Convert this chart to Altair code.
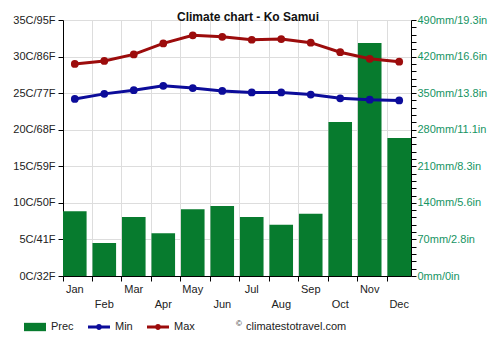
import json
import altair as alt
import pandas as pd

months = ["Jan", "Feb", "Mar", "Apr", "May", "Jun", "Jul", "Aug", "Sep", "Oct", "Nov", "Dec"]
prec_mm = [124, 63, 113, 82, 128, 134, 113, 98, 119, 295, 446, 264]
temp_min = [24.2, 24.9, 25.4, 26.0, 25.7, 25.3, 25.1, 25.1, 24.8, 24.3, 24.1, 24.0]
temp_max = [29.0, 29.4, 30.3, 31.8, 32.9, 32.7, 32.3, 32.4, 31.9, 30.6, 29.7, 29.3]

temp_ticks = [0, 5, 10, 15, 20, 25, 30, 35]
temp_labels = ["0C/32F", "5C/41F", "10C/50F", "15C/59F", "20C/68F", "25C/77F", "30C/86F", "35C/95F"]
prec_minor_ticks = list(range(0, 491, 14))
prec_ticks = [0, 70, 140, 210, 280, 350, 420, 490]
prec_labels = ["0mm/0in", "70mm/2.8in", "140mm/5.6in", "210mm/8.3in", "280mm/11.1in",
               "350mm/13.8in", "420mm/16.6in", "490mm/19.3in"]
lower_row = ["Feb", "Apr", "Jun", "Aug", "Oct", "Dec"]

series = ["Prec", "Min", "Max"]
colors = ["#077b2e", "#0c0c9a", "#9c0c0c"]
title = "Climate chart - Ko Samui"
credit = "climatestotravel.com"

FONT = "Liberation Sans"
df = pd.DataFrame({"month": months, "prec": prec_mm, "tmin": temp_min, "tmax": temp_max})

x_enc = alt.X(
    "month:N", sort=months,
    scale=alt.Scale(paddingInner=0.2, paddingOuter=0),
    axis=alt.Axis(
        title=None, grid=True, gridColor="#dddddd", bandPosition=0,
        domainColor="black", tickColor="black", tickSize=5,
        labelPadding=2, labelFontSize=11, labelColor="#222222", labelAngle=0,
        labelOverlap=False, labelLineHeight=15.5, labelBaseline="top",
        labelExpr="indexof(%s, datum.value) >= 0 ? ['', datum.label] : datum.label" % json.dumps(lower_row),
    ),
)

bars = alt.Chart(df).mark_bar(color=colors[0]).encode(
    x=x_enc,
    y=alt.Y("prec:Q", scale=alt.Scale(domain=[0, 490], nice=False),
            axis=alt.Axis(orient="right", title=None, values=prec_minor_ticks, grid=False,
                          domainColor="black", tickColor="black", tickSize=5, labelPadding=1,
                          labelFontSize=11, labelColor="#169463", labelOverlap=False,
                          labelExpr="indexof(%s, datum.value) >= 0 ? %s[indexof(%s, datum.value)] : ''" % (
                              json.dumps(prec_ticks), json.dumps(prec_labels), json.dumps(prec_ticks)))),
)

temp_axis = alt.Axis(orient="left", title=None, values=temp_ticks, grid=True, gridColor="#dddddd",
                     domainColor="black", tickColor="black", tickSize=5, labelPadding=3,
                     labelFontSize=11, labelColor="#222222",
                     labelExpr="%s[indexof(%s, datum.value)]" % (json.dumps(temp_labels), json.dumps(temp_ticks)))

tscale = alt.Scale(domain=[0, 35], nice=False)
min_line = alt.Chart(df).mark_line(color=colors[1], strokeWidth=3,
                                   point=alt.OverlayMarkDef(color=colors[1], filled=True, size=60, opacity=1)).encode(
    x=x_enc, y=alt.Y("tmin:Q", scale=tscale, axis=temp_axis))
max_line = alt.Chart(df).mark_line(color=colors[2], strokeWidth=3,
                                   point=alt.OverlayMarkDef(color=colors[2], filled=True, size=60, opacity=1)).encode(
    x=x_enc, y=alt.Y("tmax:Q", scale=tscale, axis=temp_axis))
temps = alt.layer(min_line, max_line)

rect_path = "M-1,-0.38 H1 V0.38 H-1 Z"
line_path = "M-1,-0.14 H1 V0.14 H-1 Z M-0.27,0 A0.27,0.27 0 1,1 0.27,0 A0.27,0.27 0 1,1 -0.27,0 Z"
leg = alt.Legend(orient="none", legendX=-39, legendY=296, direction="horizontal", title=None,
                 symbolSize=484, labelFontSize=11, labelColor="#222222", columnPadding=14,
                 labelOffset=5, symbolStrokeWidth=0, symbolOpacity=1, padding=0, labelFont=FONT)
legend_layer = alt.Chart(pd.DataFrame({"series": series})).mark_point(filled=True).encode(
    color=alt.Color("series:N", scale=alt.Scale(domain=series, range=colors), legend=leg),
    shape=alt.Shape("series:N", scale=alt.Scale(domain=series, range=[rect_path, line_path, line_path]), legend=leg),
).transform_filter("false")

credit_df = pd.DataFrame({"t": [credit], "c": ["\u00a9"]})
credit_text = alt.Chart(credit_df).mark_text(align="left", baseline="middle", fontSize=11,
                                             color="#222222", font=FONT).encode(
    text="t:N", x=alt.value(183), y=alt.value(307))
credit_sym = alt.Chart(credit_df).mark_text(align="left", baseline="middle", fontSize=8,
                                            color="#222222", font=FONT).encode(
    text="c:N", x=alt.value(173), y=alt.value(304))

chart = alt.layer(bars, temps, legend_layer, credit_text, credit_sym).resolve_scale(
    y="independent"
).properties(
    width=348, height=256,
    autosize=alt.AutoSizeParams(type="none"),
    padding={"left": 63, "top": 20, "right": 89, "bottom": 74},
    title=alt.TitleParams(title, fontSize=12, fontWeight="bold", font=FONT, color="#111111",
                          anchor="middle", dx=11, offset=-10),
).configure(font=FONT).configure_view(stroke=None).configure_axis(labelFont=FONT)

chart.save("out.html", embed_options={"renderer": "svg", "actions": False})
